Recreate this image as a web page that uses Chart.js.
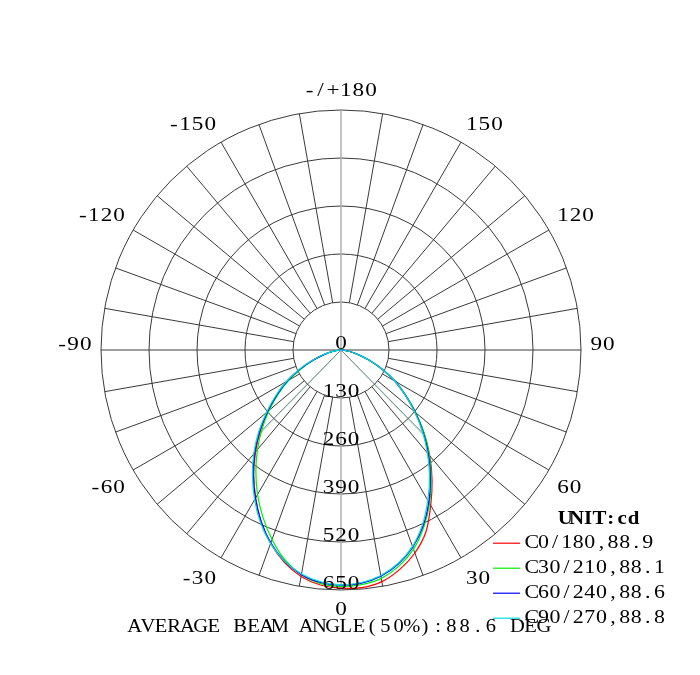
<!DOCTYPE html>
<html><head><meta charset="utf-8">
<script src="https://cdn.jsdelivr.net/npm/chart.js@4.4.0/dist/chart.umd.min.js"></script>
<style>html,body{margin:0;padding:0;background:#fff}#wrap{width:700px;height:675px}</style>
</head><body><div id="wrap"><canvas id="c" width="700" height="675"></canvas></div>
<script>
// ---- data ----
const GAMMA = [-90,-85,-80,-75,-70,-65,-60,-55,-50,-45,-40,-35,-30,-25,-20,-15,-10,-5,0,5,10,15,20,25,30,35,40,45,50,55,60,65,70,75,80,85,90];
const C0_180  = [0,8,24,48,80,120,166,210,258,308,360,412,462,512,557,595,623,639,645,646,637,615,585,544,486,430,374,318,264,214,170,124,82,50,24,8,0];
const C30_210 = [0,7,22,46,78,118,164,208,254,302,352,402,452,500,546,588,618,635,640,638,628,606,574,530,480,426,372,318,264,214,168,122,80,48,24,8,0];
const C60_240 = [0,8,24,48,80,122,168,212,260,312,364,414,464,512,556,592,618,632,637,634,622,600,568,526,476,422,368,314,262,212,168,122,80,48,24,8,0];
const C90_270 = [0,9,26,50,84,126,172,216,264,316,368,418,468,516,558,592,616,630,636,632,620,598,566,522,470,418,364,312,260,212,168,122,80,48,24,8,0];
const SERIES_NAMES = ['C0/180','C30/210','C60/240','C90/270'];
const BEAM_ANGLES = [88.9, 88.1, 88.6, 88.8];
const BEAM_END_CD = [322, 320, 318, 318];
const ANGLE_TICK_LABELS = ['-/+180','150','120','90','60','30','0','-30','-60','-90','-120','-150'];
const RADIAL_MAX = 650, RADIAL_STEP = 130;
const AVG_BEAM = 88.6;
const UNIT = 'cd';

// ---- styles ----
const COLORS = ['#ff0000','#00ee00','#0000ff','#00e0e0'];
const PALE = ['rgba(255,0,0,0.25)','rgba(0,220,0,0.3)','rgba(0,0,255,0.25)','rgba(0,200,200,0.45)'];
const SERIES = [C0_180, C30_210, C60_240, C90_270];

const STEP = 0.5;
const N = Math.round(360 / STEP);
const labels = Array.from({length: N}, (_, i) => String(i * STEP));
const idxOf = g => ((Math.round((180 - g) / STEP) % N) + N) % N;

const datasets = [];
SERIES.forEach((vals, s) => {
  const arr = new Array(N).fill(null);
  GAMMA.forEach((g, k) => { arr[idxOf(g)] = vals[k]; });
  datasets.push({label: SERIES_NAMES[s], data: arr, borderColor: COLORS[s], borderWidth: 1.2,
    fill: false, pointRadius: 0, spanGaps: true, tension: 0.3, order: 4 - s});
});
SERIES.forEach((vals, s) => {
  const half = BEAM_ANGLES[s] / 2;
  const arr = new Array(N).fill(null);
  const ir = idxOf(half), il = idxOf(-half);
  arr[(ir - 1 + N) % N] = 0; arr[ir] = BEAM_END_CD[s];
  arr[il] = BEAM_END_CD[s]; arr[(il + 1) % N] = 0;
  datasets.push({label: 'beam ' + SERIES_NAMES[s], data: arr, borderColor: PALE[s], borderWidth: 1,
    fill: false, pointRadius: 0, spanGaps: false, tension: 0, order: 10 + s});
});

function drawMono(ctx, str, x, y, adv, align, stretch, narrowDash) {
  const w = ch => (narrowDash && ch === '-') ? adv * 0.75 : adv;
  let total = 0;
  for (const ch of str) total += w(ch);
  let cx = align === 'center' ? x - total / 2 : (align === 'right' ? x - total : x);
  ctx.textAlign = 'center';
  for (const ch of str) {
    const a = w(ch);
    ctx.save();
    ctx.translate(cx + a / 2, y);
    ctx.scale(stretch || 1, 1);
    ctx.fillText(ch, 0, 0);
    ctx.restore();
    cx += a;
  }
}

const bgPlugin = {id: 'bg', beforeDraw(chart) {
  const c = chart.ctx; c.save(); c.fillStyle = '#fff'; c.fillRect(0, 0, chart.width, chart.height); c.restore();
}};

const textPlugin = {id: 'texts', afterDatasetsDraw(chart) {
  const sc = chart.scales.r, ctx = chart.ctx;
  const R = sc.drawingArea;
  ctx.save();
  ctx.fillStyle = '#000';
  ctx.textBaseline = 'alphabetic';
  ctx.font = '19px "Liberation Serif"';
  // radial ring labels along the 0-degree (bottom) direction
  const bottomIdx = idxOf(0);
  sc.ticks.forEach(t => {
    const p = sc.getPointPosition(bottomIdx, sc.getDistanceFromCenterForValue(t.value));
    drawMono(ctx, String(t.label), p.x, p.y - 1, 12.5, 'center', 1.22);
  });
  // angle labels
  ANGLE_TICK_LABELS.forEach((lab, k) => {
    const p = sc.getPointPosition(Math.round(k * 30 / STEP), R + 9);
    const dx = p.x - sc.xCenter, dy = p.y - sc.yCenter;
    const align = Math.abs(dx) < 1 ? 'center' : (dx > 0 ? 'left' : 'right');
    let y;
    if (Math.abs(dy) < 1) y = p.y;
    else if (dy < 0) y = p.y - 4.7;
    else y = Math.abs(dx) < 1 ? p.y + 16 : p.y + 18.2;
    drawMono(ctx, lab, p.x, y, 12.6, align, 1.22, true);
  });
  // title
  ctx.font = '19px "Liberation Serif"';
  drawMono(ctx, 'AVERAGE BEAM ANGLE(50%):' + AVG_BEAM + ' DEG', 128, 632, 13.2, 'left', 1.08);
  // legend
  ctx.font = 'bold 19px "Liberation Serif"';
  drawMono(ctx, 'UNIT:' + UNIT, 559.5, 523.5, 11.4, 'left', 1.1);
  ctx.font = '19px "Liberation Serif"';
  SERIES_NAMES.forEach((nm, s) => {
    const yc = 541.7 + 25 * s;
    ctx.strokeStyle = COLORS[s]; ctx.lineWidth = 1.2;
    ctx.beginPath(); ctx.moveTo(493, yc + 1.5); ctx.lineTo(520, yc + 1.5); ctx.stroke();
    drawMono(ctx, nm + ',' + BEAM_ANGLES[s], 526, yc + 6.3, 11.6, 'left', 1.15);
  });
  ctx.restore();
}};

new Chart(document.getElementById('c'), {
  type: 'radar',
  data: {labels, datasets},
  options: {
    responsive: false, animation: false,
    layout: {padding: {left: 101, right: 119, top: 110, bottom: 85}},
    plugins: {legend: {display: false}, tooltip: {enabled: false}},
    scales: {r: {
      min: 0, max: RADIAL_MAX, startAngle: 0,
      ticks: {display: false, stepSize: RADIAL_STEP},
      pointLabels: {display: false},
      grid: {circular: true, color: '#3a3a3a', lineWidth: 1},
      angleLines: {
        display: true,
        lineWidth: c => (c.index % Math.round(10 / STEP) === 0) ? (c.index % Math.round(180 / STEP) === 0 ? 1.5 : 1) : 0,
        color: c => (c.index % Math.round(180 / STEP) === 0) ? '#b0b0b0' : '#3a3a3a',
        borderDash: c => {
          if (c.index % Math.round(90 / STEP) === 0) return [];
          const sc = c.chart.scales.r; const R = sc.drawingArea;
          const inner = sc.getDistanceFromCenterForValue(RADIAL_STEP);
          return [R - inner, inner];
        },
        borderDashOffset: c => {
          if (c.index % Math.round(90 / STEP) === 0) return 0;
          const sc = c.chart.scales.r; const R = sc.drawingArea;
          const inner = sc.getDistanceFromCenterForValue(RADIAL_STEP);
          return R - inner;
        }
      }
    }}
  },
  plugins: [bgPlugin, textPlugin]
});
</script></body></html>
